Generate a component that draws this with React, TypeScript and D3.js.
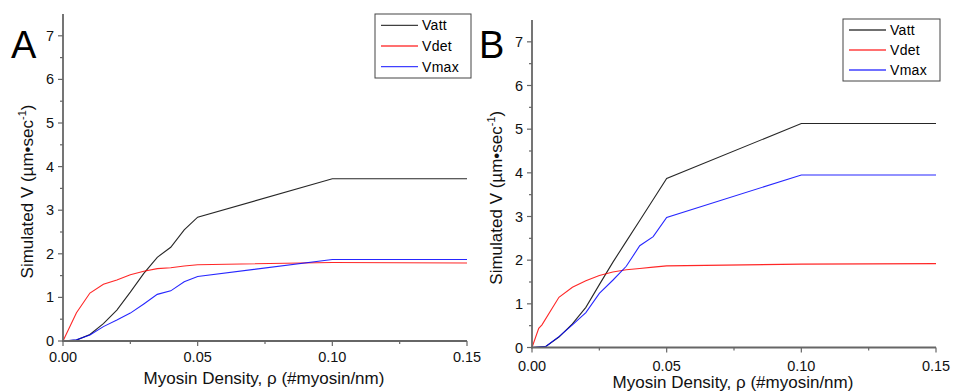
import React from "react";
import * as d3 from "d3";

// ---------- DATA ----------
const xTicks = [0, 0.05, 0.1, 0.15];
const xTickLabels = ["0.00", "0.05", "0.10", "0.15"];
const yTicks = [0, 1, 2, 3, 4, 5, 6, 7];
const seriesNames = ["Vatt", "Vdet", "Vmax"];
const seriesColors = ["#000000", "#ff0000", "#0000ff"];

const densityA = [0, 0.005, 0.01, 0.015, 0.02, 0.025, 0.03, 0.035, 0.04, 0.045, 0.05, 0.1, 0.15];
const vattA = [0, 0.02, 0.15, 0.4, 0.71, 1.12, 1.55, 1.92, 2.15, 2.55, 2.84, 3.72, 3.72];
const vdetA = [0, 0.65, 1.1, 1.3, 1.4, 1.52, 1.6, 1.66, 1.68, 1.72, 1.75, 1.8, 1.79];
const vmaxA = [0, 0.03, 0.14, 0.33, 0.48, 0.64, 0.85, 1.07, 1.15, 1.36, 1.48, 1.87, 1.87];

const densityB = [0, 0.005, 0.01, 0.015, 0.02, 0.025, 0.03, 0.035, 0.04, 0.045, 0.05, 0.1, 0.15];
const vattB = [0, 0.02, 0.24, 0.54, 0.92, 1.44, 1.95, 2.43, 2.91, 3.39, 3.87, 5.13, 5.13];
const vmaxB = [0, 0.02, 0.25, 0.52, 0.8, 1.24, 1.54, 1.86, 2.33, 2.54, 2.98, 3.95, 3.95];
const densityDetB = [0, 0.0025, 0.0037, 0.01, 0.015, 0.02, 0.025, 0.03, 0.035, 0.04, 0.045, 0.05, 0.1, 0.15];
const vdetB = [0, 0.44, 0.52, 1.15, 1.38, 1.53, 1.65, 1.73, 1.78, 1.81, 1.84, 1.87, 1.91, 1.92];

const FONT = "'Liberation Sans', Arial, sans-serif";
const AXIS = "#666666";

type Series = { xs: number[]; ys: number[]; color: string; name: string };

type PanelProps = {
  label: string;
  x0: number;
  x1: number;
  y0: number;
  y1: number;
  series: Series[];
  legend: { x: number; y: number; w: number; h: number };
  labelPos: [number, number];
  yTitleX: number;
  xTitleY: number;
  xLabelY: number;
};

function Panel(p: PanelProps) {
  const x = d3.scaleLinear().domain([0, 0.15]).range([p.x0, p.x1]);
  const y = d3.scaleLinear().domain([0, 7.5]).range([p.y0, p.y1]);
  const line = d3
    .line<[number, number]>()
    .x((d) => x(d[0]))
    .y((d) => y(d[1]));
  const xMinor = d3.range(0.025, 0.151, 0.05);
  const yMinor = d3.range(0.5, 7.5, 1);
  const rowH = (p.legend.h - 2) / 3;
  return (
    <g fontFamily={FONT}>
      {/* data lines */}
      {p.series.map((s, i) => (
        <path
          key={i}
          d={line(s.xs.map((v, j) => [v, s.ys[j]] as [number, number])) || ""}
          fill="none"
          stroke={s.color}
          strokeWidth={1.1}
          strokeOpacity={0.85}
        />
      ))}
      {/* axes */}
      <line x1={p.x0} x2={p.x0} y1={p.y0 + 1} y2={p.y1} stroke={AXIS} strokeWidth={1.8} />
      <line x1={p.x0 - 1} x2={p.x1} y1={p.y0} y2={p.y0} stroke={AXIS} strokeWidth={1.8} />
      {xTicks.map((t, i) => (
        <g key={"xt" + i}>
          <line x1={x(t)} x2={x(t)} y1={p.y0} y2={p.y0 + 5} stroke={AXIS} strokeWidth={1.2} />
          <text x={x(t)} y={p.xLabelY} textAnchor="middle" fontSize={14.5} fill="#111">
            {xTickLabels[i]}
          </text>
        </g>
      ))}
      {xMinor.map((t, i) => (
        <line key={"xm" + i} x1={x(t)} x2={x(t)} y1={p.y0} y2={p.y0 + 3} stroke={AXIS} strokeWidth={1.2} />
      ))}
      {yTicks.map((t, i) => (
        <g key={"yt" + i}>
          <line x1={p.x0 - 5} x2={p.x0} y1={y(t)} y2={y(t)} stroke={AXIS} strokeWidth={1.2} />
          <text x={p.x0 - 9} y={y(t) + 5} textAnchor="end" fontSize={14.5} fill="#111">
            {t}
          </text>
        </g>
      ))}
      {yMinor.map((t, i) => (
        <line key={"ym" + i} x1={p.x0 - 3} x2={p.x0} y1={y(t)} y2={y(t)} stroke={AXIS} strokeWidth={1.2} />
      ))}
      {/* titles */}
      <text
        x={(p.x0 + p.x1) / 2 - 1}
        y={p.xTitleY}
        textAnchor="middle"
        fontSize={17}
        fill="#111"
      >
        Myosin Density, ρ (#myosin/nm)
      </text>
      <text
        transform={`translate(${p.yTitleX},${(p.y0 + p.y1) / 2 + 14}) rotate(-90)`}
        textAnchor="middle"
        fontSize={17}
        fill="#111"
      >
        Simulated V (µm•sec
        <tspan dy={-7} fontSize={11}>-1</tspan>
        <tspan dy={7}>)</tspan>
      </text>
      <text x={p.labelPos[0]} y={p.labelPos[1]} fontSize={38} fill="#000">
        {p.label}
      </text>
      {/* legend */}
      <rect
        x={p.legend.x}
        y={p.legend.y}
        width={p.legend.w}
        height={p.legend.h}
        fill="#fff"
        stroke="#444"
        strokeWidth={1}
      />
      {p.series.map((s, i) => {
        const cy = p.legend.y + 1 + rowH * (i + 0.5);
        return (
          <g key={"lg" + i}>
            <line
              x1={p.legend.x + 6}
              x2={p.legend.x + 43}
              y1={cy}
              y2={cy}
              stroke={s.color}
              strokeWidth={1.3}
              strokeOpacity={0.75}
            />
            <text x={p.legend.x + 47} y={cy + 5} fontSize={14} fill="#000" letterSpacing={0.3}>
              {s.name}
            </text>
          </g>
        );
      })}
    </g>
  );
}

export default function App() {
  const seriesA: Series[] = [
    { xs: densityA, ys: vattA, color: seriesColors[0], name: seriesNames[0] },
    { xs: densityA, ys: vdetA, color: seriesColors[1], name: seriesNames[1] },
    { xs: densityA, ys: vmaxA, color: seriesColors[2], name: seriesNames[2] },
  ];
  const seriesB: Series[] = [
    { xs: densityB, ys: vattB, color: seriesColors[0], name: seriesNames[0] },
    { xs: densityDetB, ys: vdetB, color: seriesColors[1], name: seriesNames[1] },
    { xs: densityB, ys: vmaxB, color: seriesColors[2], name: seriesNames[2] },
  ];
  return (
    <svg
      width={954}
      height={392}
      style={{ position: "absolute", left: 0, top: 0, background: "#fff" }}
    >
      <rect width={954} height={392} fill="#fff" />
      <Panel
        label="A"
        x0={63}
        x1={467}
        y0={341}
        y1={14}
        series={seriesA}
        legend={{ x: 375, y: 14, w: 96, h: 64 }}
        labelPos={[11, 58]}
        yTitleX={33}
        xTitleY={384}
        xLabelY={362}
      />
      <Panel
        label="B"
        x0={532}
        x1={936}
        y0={347.5}
        y1={20}
        series={seriesB}
        legend={{ x: 843, y: 19, w: 97, h: 62 }}
        labelPos={[479, 58]}
        yTitleX={502}
        xTitleY={388}
        xLabelY={371}
      />
    </svg>
  );
}
